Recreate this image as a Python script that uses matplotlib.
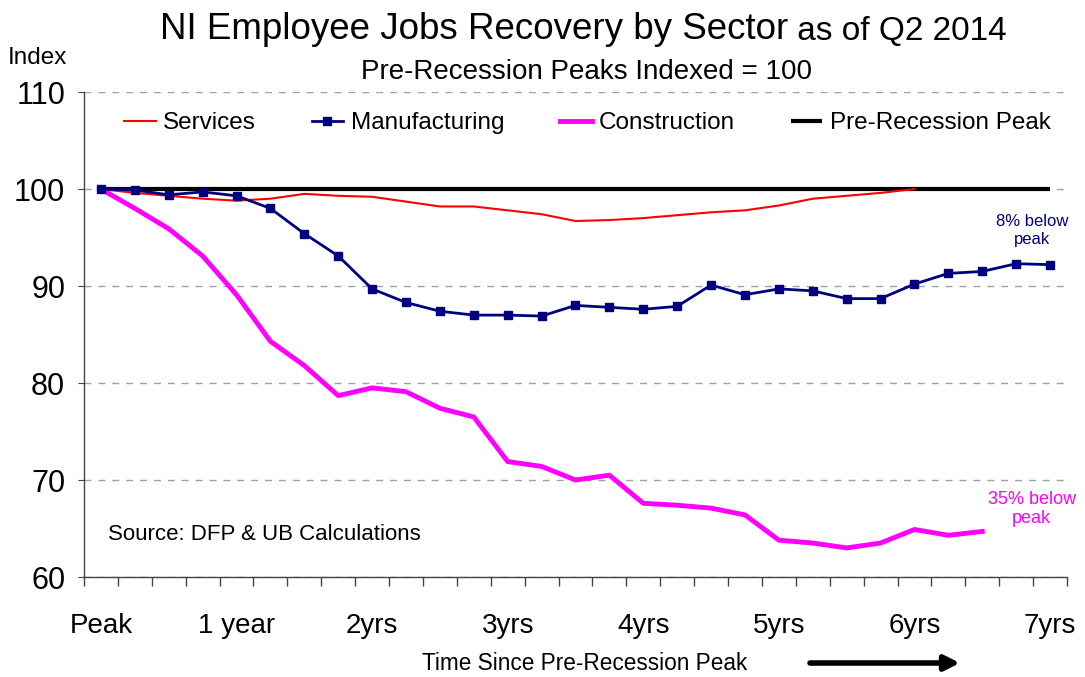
import matplotlib
matplotlib.use("Agg")
import matplotlib.pyplot as plt

plt.rcParams['font.family'] = ['Liberation Sans', 'DejaVu Sans']

# Dati (indice, picco pre-recessione = 100), un punto per trimestre
services = [100, 99.6, 99.3, 99.0, 98.8, 99.0, 99.5, 99.3, 99.2, 98.7,
            98.2, 98.2, 97.8, 97.4, 96.7, 96.8, 97.0, 97.3, 97.6, 97.8,
            98.3, 99.0, 99.3, 99.6, 100.0]
manufacturing = [100, 99.9, 99.4, 99.7, 99.3, 98.0, 95.4, 93.1, 89.7, 88.3,
                 87.4, 87.0, 87.0, 86.9, 88.0, 87.8, 87.6, 87.9, 90.1, 89.1,
                 89.7, 89.5, 88.7, 88.7, 90.2, 91.3, 91.5, 92.3, 92.2]
construction = [100, 98.0, 95.9, 93.1, 89.1, 84.3, 81.8, 78.7, 79.5, 79.1,
                77.4, 76.5, 71.9, 71.4, 70.0, 70.5, 67.6, 67.4, 67.1, 66.4,
                63.8, 63.5, 63.0, 63.5, 64.9, 64.3, 64.7]
peak_level = 100

tick_labels = ['Peak', '1 year', '2yrs', '3yrs', '4yrs', '5yrs', '6yrs', '7yrs']
quarters_per_label = 4

x_all = list(range(len(manufacturing)))

fig = plt.figure(figsize=(10.85, 6.77), dpi=100)
ax = fig.add_axes([0.0774, 0.1477, 0.906, 0.7164])

ax.plot(x_all, [peak_level] * len(x_all), color='black', lw=3, zorder=2,
        label='Pre-Recession Peak', solid_capstyle='butt')
ax.plot(range(len(services)), services, color='#FF0000', lw=1.5, zorder=3,
        label='Services')
ax.plot(range(len(manufacturing)), manufacturing, color='#000080', lw=2,
        marker='s', markersize=5.5, zorder=4, label='Manufacturing')
ax.plot(range(len(construction)), construction, color='#FF00FF', lw=3.5,
        zorder=3, label='Construction')

ax.set_xlim(-0.5, len(x_all) - 0.5)
ax.set_ylim(60, 110)
ax.set_yticks([60, 70, 80, 90, 100, 110])
ax.set_xticks([i * quarters_per_label for i in range(len(tick_labels))])
ax.set_xticklabels(tick_labels)
ax.set_xticks([i - 0.5 for i in range(len(x_all) + 1)], minor=True)
ax.tick_params(axis='x', which='major', length=0, pad=26, labelsize=20)
ax.tick_params(axis='x', which='minor', length=6.5, direction='out', width=1, color='#444444')
ax.tick_params(axis='y', length=4.5, direction='out', pad=9, labelsize=22, color='#444444')

for s in ['top', 'right']:
    ax.spines[s].set_visible(False)
for s in ['left', 'bottom']:
    ax.spines[s].set_color('#444444')
    ax.spines[s].set_linewidth(1)

ax.yaxis.grid(True, color='#a0a0a0', linestyle=(0, (5, 5)), lw=1)
ax.set_axisbelow(True)

handles, labels = ax.get_legend_handles_labels()
order = [1, 2, 3, 0]
ax.legend([handles[i] for i in order], [labels[i] for i in order], loc='center',
          bbox_to_anchor=(0.512, 0.936), ncol=4, frameon=False, fontsize=17.5,
          handlelength=1.3, handletextpad=0.3, columnspacing=2.3)

# Titoli
t1 = fig.text(0.1475, 1 - 39 / 677, 'NI Employee Jobs Recovery by Sector', fontsize=26.5,
              ha='left', va='baseline')
ax.annotate(' as of Q2 2014', xy=(1, 0), xycoords=t1, fontsize=24,
            ha='left', va='bottom')
fig.text(0.541, 1 - 79 / 677, 'Pre-Recession Peaks Indexed = 100', fontsize=20,
         ha='center', va='baseline')
fig.text(8 / 1085, 1 - 64 / 677, 'Index', fontsize=17.5, ha='left', va='baseline')

ax.text(0.024, 0.087, 'Source: DFP & UB Calculations', transform=ax.transAxes,
        fontsize=16, ha='left', va='center')

ax.text(27.46, 95.7, '8% below\npeak', color='#000080', fontsize=12,
        ha='center', va='center', linespacing=1.25)
ax.text(27.46, 67.0, '35% below\npeak', color='#FF00FF', fontsize=13,
        ha='center', va='center', linespacing=1.15)

# Etichetta asse x con freccia
fig.text(585 / 1085, 1 - 663 / 677, 'Time Since Pre-Recession Peak', fontsize=16.3,
         ha='center', va='center')
ax.annotate('', xy=(960 / 1085, 1 - 663 / 677), xycoords='figure fraction',
            xytext=(810 / 1085, 1 - 663 / 677), textcoords='figure fraction',
            arrowprops=dict(arrowstyle='-|>', lw=4, color='black',
                            mutation_scale=22, shrinkA=0, shrinkB=0))

fig.savefig('out.png', dpi=100)
